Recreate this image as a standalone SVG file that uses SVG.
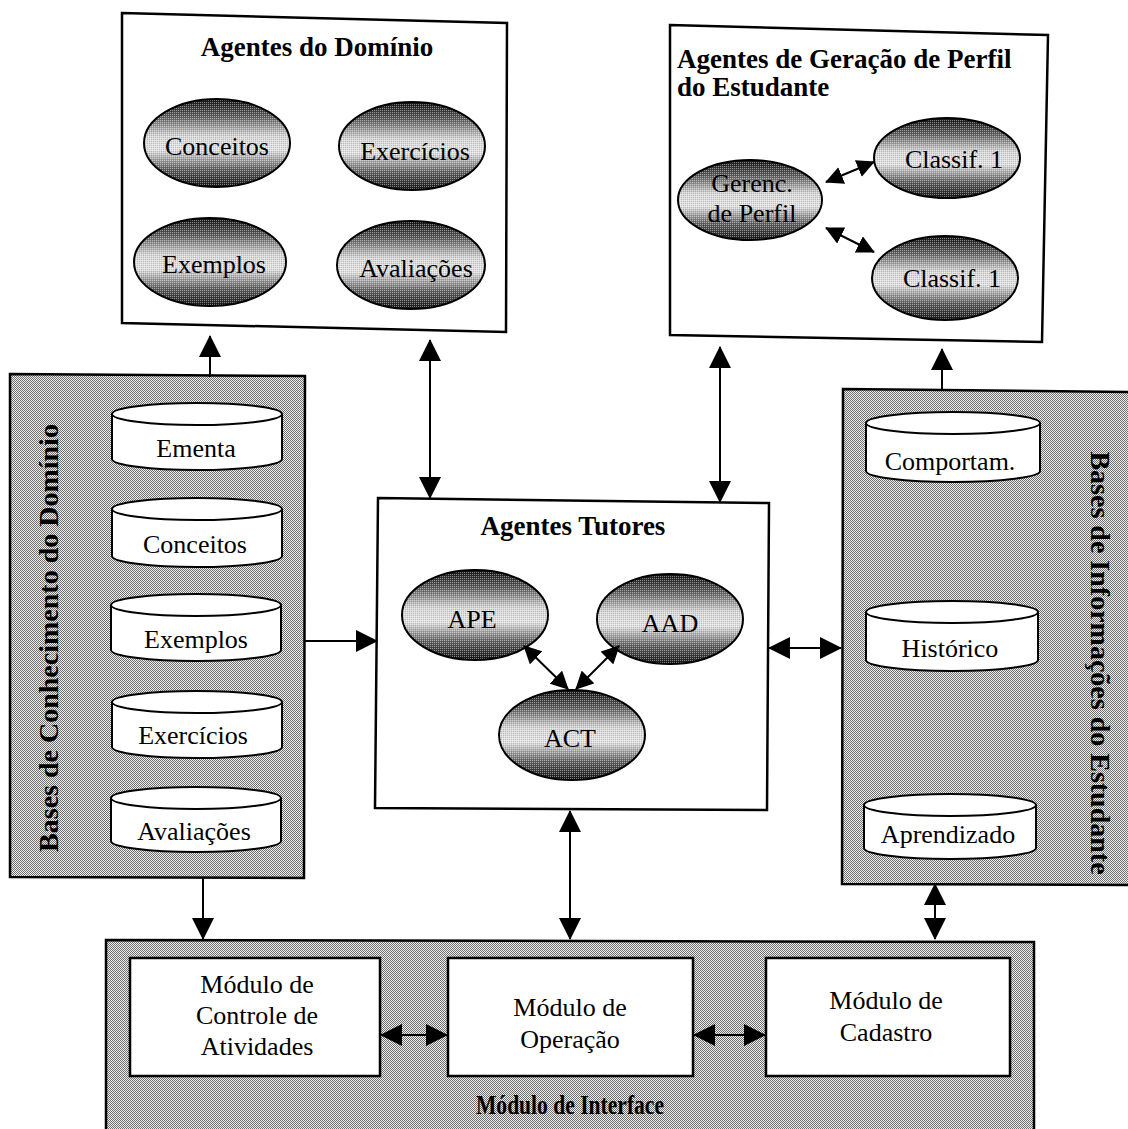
<svg xmlns="http://www.w3.org/2000/svg" width="1128" height="1129" viewBox="0 0 1128 1129">
  <defs>
    <!-- halftone grey used by the panels -->
    <pattern id="dither" width="2" height="2" patternUnits="userSpaceOnUse">
      <rect width="2" height="2" fill="#efefef"/>
      <rect width="1" height="1" fill="#6e6e6e"/>
      <rect x="1" y="1" width="1" height="1" fill="#6e6e6e"/>
    </pattern>
    <!-- speckle laid over the agent ellipses -->
    <pattern id="speck" width="2" height="2" patternUnits="userSpaceOnUse">
      <rect width="1" height="1" fill="#ffffff" fill-opacity="0.45"/>
      <rect x="1" y="1" width="1" height="1" fill="#000000" fill-opacity="0.15"/>
    </pattern>
    <linearGradient id="agentShade" x1="0" y1="0" x2="0" y2="1">
      <stop offset="0" stop-color="#141414"/>
      <stop offset="0.2" stop-color="#5e5e5e"/>
      <stop offset="0.42" stop-color="#d8d8d8"/>
      <stop offset="0.58" stop-color="#e2e2e2"/>
      <stop offset="0.8" stop-color="#5e5e5e"/>
      <stop offset="1" stop-color="#141414"/>
    </linearGradient>
    <marker id="head" viewBox="0 0 22 22" refX="21" refY="11" markerWidth="22" markerHeight="22" markerUnits="userSpaceOnUse" orient="auto-start-reverse">
      <path d="M0,0 L22,11 L0,22 Z" fill="#000"/>
    </marker>
    <marker id="headS" viewBox="0 0 18 18" refX="17" refY="9" markerWidth="18" markerHeight="18" markerUnits="userSpaceOnUse" orient="auto-start-reverse">
      <path d="M0,0 L18,9 L0,18 Z" fill="#000"/>
    </marker>
    <style>
      .box { fill: #ffffff; stroke: #000; stroke-width: 2.5; }
      .panel { fill: url(#dither); stroke: #000; stroke-width: 2.5; }
      .agent { fill: url(#agentShade); stroke: #000; stroke-width: 2; }
      .agentTex { fill: url(#speck); stroke: none; }
      .cyl { fill: #ffffff; stroke: #000; stroke-width: 2; }
      .cylTop { fill: none; stroke: #000; stroke-width: 2; }
      .t { font-family: "Liberation Serif", "Times New Roman", serif; font-size: 26px; fill: #000; text-anchor: middle; }
      .title { font-family: "Liberation Serif", "Times New Roman", serif; font-size: 27px; font-weight: bold; fill: #000; }
      .vt { font-family: "Liberation Serif", "Times New Roman", serif; font-size: 28px; font-weight: bold; fill: #000; text-anchor: middle; }
      .link { fill: none; stroke: #000; stroke-width: 2; }
      .one { marker-end: url(#head); }
      .two { marker-start: url(#head); marker-end: url(#head); }
      .twoS { marker-start: url(#headS); marker-end: url(#headS); }
    </style>
  </defs>

  <rect width="1128" height="1129" fill="#ffffff"/>

  <!-- Agentes do Domínio -->
  <g id="agentes-dominio">
    <polygon class="box" points="122,13 507,23 506,332 122,323"/>
    <text class="title" x="317" y="56" text-anchor="middle">Agentes do Domínio</text>
    <g id="ag-conceitos">
      <ellipse class="agent" cx="217" cy="143" rx="73" ry="44"/>
      <ellipse class="agentTex" cx="217" cy="143" rx="72" ry="43"/>
      <text class="t" x="217" y="155">Conceitos</text>
    </g>
    <g id="ag-exercicios">
      <ellipse class="agent" cx="412" cy="146" rx="73" ry="44"/>
      <ellipse class="agentTex" cx="412" cy="146" rx="72" ry="43"/>
      <text class="t" x="415" y="160">Exercícios</text>
    </g>
    <g id="ag-exemplos">
      <ellipse class="agent" cx="210" cy="262" rx="76" ry="44"/>
      <ellipse class="agentTex" cx="210" cy="262" rx="75" ry="43"/>
      <text class="t" x="214" y="273">Exemplos</text>
    </g>
    <g id="ag-avaliacoes">
      <ellipse class="agent" cx="411" cy="265" rx="74" ry="44"/>
      <ellipse class="agentTex" cx="411" cy="265" rx="73" ry="43"/>
      <text class="t" x="416" y="277">Avaliações</text>
    </g>
  </g>

  <!-- Agentes de Geração de Perfil do Estudante -->
  <g id="agentes-perfil">
    <polygon class="box" points="670,25 1048,35 1042,342 670,335"/>
    <text class="title" x="677" y="68">Agentes de Geração de Perfil</text>
    <text class="title" x="677" y="96">do Estudante</text>
    <g id="ag-gerenc">
      <ellipse class="agent" cx="750" cy="200" rx="72" ry="40"/>
      <ellipse class="agentTex" cx="750" cy="200" rx="71" ry="39"/>
      <text class="t" x="752" y="192">Gerenc.</text>
      <text class="t" x="752" y="222">de Perfil</text>
    </g>
    <g id="ag-classif-a">
      <ellipse class="agent" cx="947" cy="158" rx="73" ry="40"/>
      <ellipse class="agentTex" cx="947" cy="158" rx="72" ry="39"/>
      <text class="t" x="954" y="168">Classif. 1</text>
    </g>
    <g id="ag-classif-b">
      <ellipse class="agent" cx="945" cy="278" rx="73" ry="42"/>
      <ellipse class="agentTex" cx="945" cy="278" rx="72" ry="41"/>
      <text class="t" x="952" y="287">Classif. 1</text>
    </g>
  </g>

  <!-- Bases de Conhecimento do Domínio -->
  <g id="bases-conhecimento">
    <polygon class="panel" points="10,374 305,376 304,878 10,877"/>
    <text class="vt" transform="translate(58,638) rotate(-90)">Bases de Conhecimento do Domínio</text>
    <g id="db-ementa">
      <path class="cyl" d="M112,414 A85,11 0 0 1 282,414 L282,459 A85,11 0 0 1 112,459 Z"/>
      <path class="cylTop" d="M112,414 A85,11 0 0 0 282,414"/>
      <text class="t" x="196" y="457">Ementa</text>
    </g>
    <g id="db-conceitos">
      <path class="cyl" d="M112,509 A85,11 0 0 1 282,509 L282,556 A85,11 0 0 1 112,556 Z"/>
      <path class="cylTop" d="M112,509 A85,11 0 0 0 282,509"/>
      <text class="t" x="195" y="553">Conceitos</text>
    </g>
    <g id="db-exemplos">
      <path class="cyl" d="M111,605 A85,11 0 0 1 281,605 L281,650 A85,11 0 0 1 111,650 Z"/>
      <path class="cylTop" d="M111,605 A85,11 0 0 0 281,605"/>
      <text class="t" x="196" y="648">Exemplos</text>
    </g>
    <g id="db-exercicios">
      <path class="cyl" d="M112,702 A85,11 0 0 1 282,702 L282,747 A85,11 0 0 1 112,747 Z"/>
      <path class="cylTop" d="M112,702 A85,11 0 0 0 282,702"/>
      <text class="t" x="193" y="744">Exercícios</text>
    </g>
    <g id="db-avaliacoes">
      <path class="cyl" d="M111,798 A85,11 0 0 1 281,798 L281,841 A85,11 0 0 1 111,841 Z"/>
      <path class="cylTop" d="M111,798 A85,11 0 0 0 281,798"/>
      <text class="t" x="194" y="840">Avaliações</text>
    </g>
  </g>

  <!-- Agentes Tutores -->
  <g id="agentes-tutores">
    <polygon class="box" points="378,498 769,503 767,810 375,808"/>
    <text class="title" x="573" y="535" text-anchor="middle">Agentes Tutores</text>
    <g id="ag-ape">
      <ellipse class="agent" cx="475" cy="615" rx="73" ry="45"/>
      <ellipse class="agentTex" cx="475" cy="615" rx="72" ry="44"/>
      <text class="t" x="472" y="628">APE</text>
    </g>
    <g id="ag-aad">
      <ellipse class="agent" cx="670" cy="619" rx="73" ry="45"/>
      <ellipse class="agentTex" cx="670" cy="619" rx="72" ry="44"/>
      <text class="t" x="670" y="632">AAD</text>
    </g>
    <g id="ag-act">
      <ellipse class="agent" cx="572" cy="735" rx="73" ry="45"/>
      <ellipse class="agentTex" cx="572" cy="735" rx="72" ry="44"/>
      <text class="t" x="570" y="747">ACT</text>
    </g>
  </g>

  <!-- Bases de Informações do Estudante -->
  <g id="bases-estudante">
    <polygon class="panel" points="843,389 1132,392 1132,885 842,884"/>
    <text class="vt" transform="translate(1091,663) rotate(90)" font-size="27">Bases de Informações do Estudante</text>
    <g id="db-comportam">
      <path class="cyl" d="M866,423 A87,11 0 0 1 1040,423 L1040,471 A87,11 0 0 1 866,471 Z"/>
      <path class="cylTop" d="M866,423 A87,11 0 0 0 1040,423"/>
      <text class="t" x="950" y="470">Comportam.</text>
    </g>
    <g id="db-historico">
      <path class="cyl" d="M866,612 A86,11 0 0 1 1038,612 L1038,660 A86,11 0 0 1 866,660 Z"/>
      <path class="cylTop" d="M866,612 A86,11 0 0 0 1038,612"/>
      <text class="t" x="950" y="657">Histórico</text>
    </g>
    <g id="db-aprendizado">
      <path class="cyl" d="M864,805 A86,11 0 0 1 1036,805 L1036,848 A86,11 0 0 1 864,848 Z"/>
      <path class="cylTop" d="M864,805 A86,11 0 0 0 1036,805"/>
      <text class="t" x="948" y="843">Aprendizado</text>
    </g>
  </g>

  <!-- Módulo de Interface -->
  <g id="modulo-interface">
    <polygon class="panel" points="106,940 1034,942 1034,1135 106,1135" stroke-width="3.5"/>
    <g id="mod-controle">
      <rect class="box" x="130" y="958" width="250" height="118"/>
      <text class="t" x="257" y="993">Módulo de</text>
      <text class="t" x="257" y="1024">Controle de</text>
      <text class="t" x="257" y="1055">Atividades</text>
    </g>
    <g id="mod-operacao">
      <rect class="box" x="448" y="958" width="245" height="118"/>
      <text class="t" x="570" y="1016">Módulo de</text>
      <text class="t" x="570" y="1048">Operação</text>
    </g>
    <g id="mod-cadastro">
      <rect class="box" x="766" y="958" width="244" height="118"/>
      <text class="t" x="886" y="1009">Módulo de</text>
      <text class="t" x="886" y="1041">Cadastro</text>
    </g>
    <text class="title" x="570" y="1114" text-anchor="middle" font-size="22" textLength="188" lengthAdjust="spacingAndGlyphs">Módulo de Interface</text>
  </g>

  <!-- connectors -->
  <g id="connectors">
    <line class="link one" x1="210" y1="377" x2="210" y2="336"/>
    <line class="link two" x1="430" y1="340" x2="430" y2="498"/>
    <line class="link two" x1="720" y1="347" x2="720" y2="502"/>
    <line class="link one" x1="942" y1="390" x2="942" y2="349"/>
    <line class="link one" x1="305" y1="641" x2="377" y2="641"/>
    <line class="link two" x1="769" y1="648" x2="841" y2="648"/>
    <line class="link one" x1="203" y1="878" x2="203" y2="939"/>
    <line class="link two" x1="570" y1="811" x2="570" y2="939"/>
    <line class="link two" x1="935" y1="884" x2="935" y2="939"/>
    <line class="link two" x1="381" y1="1035" x2="447" y2="1035"/>
    <line class="link two" x1="694" y1="1035" x2="765" y2="1035"/>
    <line class="link twoS" x1="826" y1="182" x2="874" y2="162"/>
    <line class="link twoS" x1="826" y1="228" x2="874" y2="252"/>
    <line class="link twoS" x1="524" y1="646" x2="568" y2="689"/>
    <line class="link twoS" x1="619" y1="646" x2="576" y2="689"/>
  </g>
</svg>
